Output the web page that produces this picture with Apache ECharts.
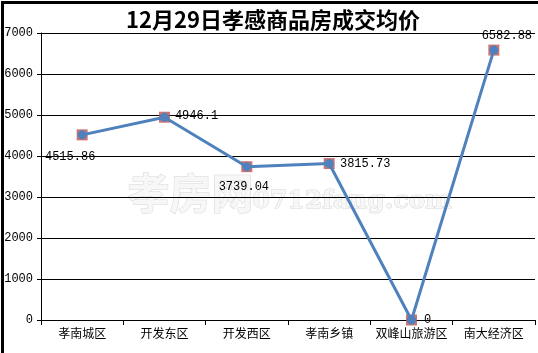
<!DOCTYPE html>
<html><head><meta charset="utf-8">
<script src="https://cdn.jsdelivr.net/npm/echarts@6/dist/echarts.min.js"></script>
<style>html,body{margin:0;padding:0;background:#fff}#c{width:538px;height:353px}</style>
</head><body><div id="c"></div>
<script>
var categories = ['孝南城区','开发东区','开发西区','孝南乡镇','双峰山旅游区','南大经济区'];
var prices = [4515.86, 4946.1, 3739.04, 3815.73, 0, 6582.88];
var yTicks = [0, 1000, 2000, 3000, 4000, 5000, 6000, 7000];
var labelOffsets = [[-12,22],[32,-1],[-3,20],[36,0],[16,0],[13,-14]];

var chart = echarts.init(document.getElementById('c'));
var mono = '"Liberation Mono","DejaVu Sans Mono",monospace';
chart.setOption({
  animation: false,
  backgroundColor: '#fff',
  title: {
    text: '12月29日孝感商品房成交均价',
    left: 268, top: 4, textAlign: 'center',
    textStyle: {fontSize: 22, fontWeight: 'bold', color: '#000', fontFamily: '"Noto Sans CJK SC"'}
  },
  grid: {left: 41, right: 3, top: 33, bottom: 33},
  xAxis: {
    type: 'category', data: categories, boundaryGap: true,
    axisLine: {lineStyle: {color: '#000', width: 1}},
    axisTick: {show: true, length: 5, lineStyle: {color: '#000'}},
    axisLabel: {color: '#000', fontSize: 12, margin: 7, interval: 0, fontFamily: '"Noto Sans CJK SC"'}
  },
  yAxis: {
    type: 'value', min: yTicks[0], max: yTicks[yTicks.length-1], interval: 1000,
    axisLine: {show: true, lineStyle: {color: '#000'}},
    axisTick: {show: true, length: 4, lineStyle: {color: '#000'}},
    axisLabel: {color: '#000', fontSize: 12, margin: 8, fontFamily: mono, formatter: function(v){ return String(v); }},
    splitLine: {lineStyle: {color: '#000', width: 1}}
  },
  graphic: [
    {type: 'rect', left: 0, top: 0, shape: {width: 538, height: 353}, style: {fill: 'none', stroke: '#000', lineWidth: 3}, z: 100, silent: true},
    {type: 'text', left: 127, top: 172, z: 0, style: {text: '孝房网', fontSize: 42, fontWeight: 'bold', fontFamily: '"Noto Sans CJK SC"', fill: '#f7f7f7', stroke: '#d6d6d6', lineWidth: 1}},
    {type: 'text', left: 252, top: 188, z: 0, style: {text: '0712fang.com', fontSize: 25, fontWeight: 'bold', fontFamily: '"DejaVu Serif"', fill: '#f7f7f7', stroke: '#d6d6d6', lineWidth: 1}}
  ],
  series: [
    {
      type: 'scatter', data: prices, symbol: 'rect', symbolSize: 11, z: 2,
      itemStyle: {color: '#C0504D'}
    },
    {
      type: 'line', data: prices.map(function(v, i){
        return {value: v, label: {offset: labelOffsets[i]}};
      }),
      symbol: 'circle', symbolSize: 9, showAllSymbol: true, z: 3,
      lineStyle: {color: '#4F81BD', width: 3},
      itemStyle: {color: '#4F81BD'},
      label: {show: true, position: 'inside', color: '#000', fontSize: 12, fontFamily: mono,
        formatter: function(p){ return String(p.value); }}
    }
  ]
});
</script></body></html>
